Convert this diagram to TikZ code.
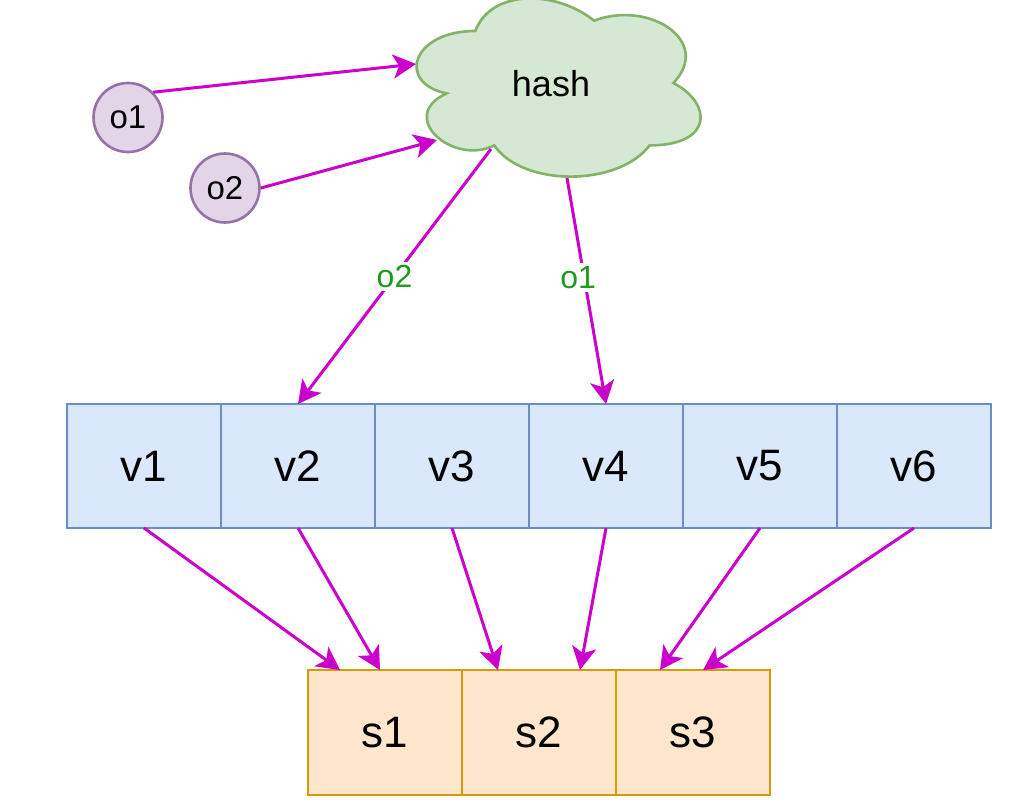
\documentclass[tikz,border=0pt]{standalone}
\usepackage{fontspec}
\setmainfont{Liberation Sans}
\usetikzlibrary{arrows.meta}
\definecolor{arrowc}{HTML}{CC00CC}
\definecolor{circfill}{HTML}{E1D5E7}
\definecolor{circline}{HTML}{9673A6}
\definecolor{cloudfill}{HTML}{D5E8D4}
\definecolor{cloudline}{HTML}{82B366}
\definecolor{vfill}{HTML}{DAE8FC}
\definecolor{vline}{HTML}{6C8EBF}
\definecolor{sfill}{HTML}{FFE6CC}
\definecolor{sline}{HTML}{D79B00}
\definecolor{lblc}{HTML}{1F9A1F}
\tikzset{
  arr/.style={draw=arrowc, line width=3pt, -{Stealth[length=23pt, width=24pt, inset=6pt]}},
  circ/.style={circle, draw=circline, fill=circfill, line width=2.6pt, minimum size=69pt, inner sep=0pt, font=\fontsize{33}{38}\selectfont},
  cloudsty/.style={draw=cloudline, fill=cloudfill, line width=2.6pt},
  vbox/.style={rectangle, draw=vline, fill=vfill, line width=2.7pt, minimum width=154pt, minimum height=124pt, inner sep=0pt, outer sep=0pt, font=\fontsize{44}{50}\selectfont},
  sbox/.style={rectangle, draw=sline, fill=sfill, line width=2.7pt, minimum width=154pt, minimum height=125pt, inner sep=0pt, outer sep=0pt, font=\fontsize{44}{50}\selectfont},
  lbl/.style={fill=white, text=lblc, inner sep=3pt, font=\fontsize{32}{36}\selectfont},
  hashtxt/.style={font=\fontsize{36}{40}\selectfont, inner sep=0pt}
}
\begin{document}
\begin{tikzpicture}[x=1pt, y=-1pt]
\useasboundingbox (0,0) rectangle (1032,804);
\fill[white] (0,0) rectangle (1032,804);

% cloud
\draw[cloudsty] (475.25,31) .. controls (411.85,31) and (396,83) .. (446.72,93.4)
  .. controls (396,116.28) and (453.06,166.2) .. (494.27,145.4)
  .. controls (522.8,187) and (617.9,187) .. (649.6,145.4)
  .. controls (713,145.4) and (713,103.8) .. (673.375,83)
  .. controls (713,41.4) and (649.6,-0.2) .. (594.125,20.6)
  .. controls (554.5,-10.6) and (491.1,-10.6) .. (475.25,31) -- cycle;
\node[hashtxt] (hash) at (551,84) {hash};
\coordinate (hin1) at (416,64);
\coordinate (hin2) at (437,140);
\coordinate (hout1) at (491,149);
\coordinate (hout2) at (567,178);

% circles
\node[circ] (o1) at (128,117.5) {o1};
\node[circ] (o2) at (225,188) {o2};

% v row
\node[vbox] (v1) at (144,466) {v1};
\node[vbox] (v2) at (298,466) {v2};
\node[vbox] (v3) at (452,466) {v3};
\node[vbox] (v4) at (606,466) {v4};
\node[vbox] (v5) at (760,466) {v5};
\node[vbox] (v6) at (914,466) {v6};

% s row
\node[sbox] (s1) at (385,732.5) {s1};
\node[sbox] (s2) at (539,732.5) {s2};
\node[sbox] (s3) at (693,732.5) {s3};

% arrows into hash
\draw[arr] (o1.45) -- (hin1);
\draw[arr] (o2.east) -- (hin2);

% arrows out of hash
\draw[arr] (hout1) -- (v2.north) node[lbl, pos=0.5] (l2) {o2};
\draw[arr] (hout2) -- (v4.north) node[lbl, pos=0.44, xshift=-6pt] (l1) {o1};

% v to s
\draw[arr] (v1.south) -- ([xshift=-45pt]s1.north);
\draw[arr] (v2.south) -- ([xshift=-5pt]s1.north);
\draw[arr] (v3.south) -- ([xshift=-41pt]s2.north);
\draw[arr] (v4.south) -- ([xshift=41pt]s2.north);
\draw[arr] (v5.south) -- ([xshift=-33pt]s3.north);
\draw[arr] (v6.south) -- ([xshift=10pt]s3.north);
\end{tikzpicture}
\end{document}
